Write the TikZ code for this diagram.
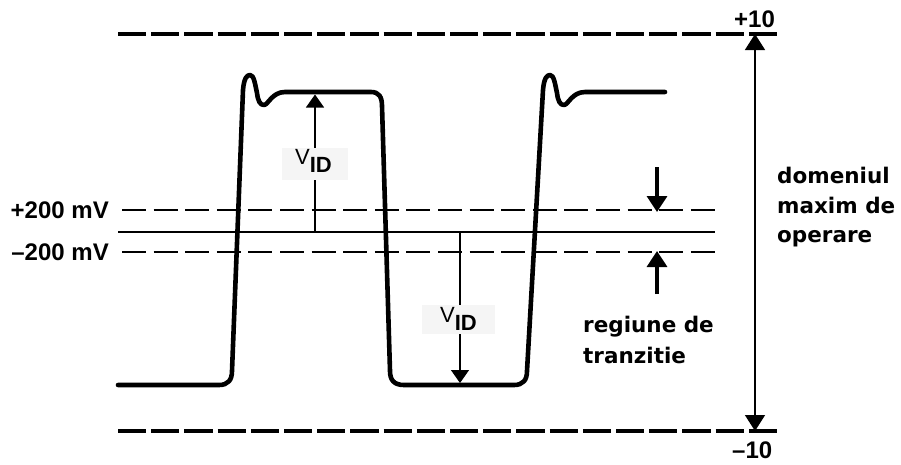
\documentclass[tikz,border=0pt]{standalone}
\usepackage{fontspec}
\setmainfont{Liberation Sans}
\newfontfamily\dvs{DejaVu Sans}
\usetikzlibrary{arrows.meta}
\tikzset{
  wave/.style={line width=4.6pt, line join=round, line cap=round},
  thickdash/.style={line width=4pt, dash pattern=on 28.2pt off 5pt},
  thindash/.style={line width=1.2pt, dash pattern=on 24pt off 7.6pt},
  thinline/.style={line width=1.2pt},
  vidtip/.style={-{Triangle[width=18pt,length=13pt]}},
  bigtip/.style={{Triangle[width=20pt,length=16pt]}-{Triangle[width=20pt,length=16pt]}},
  trtip/.style={line width=3.4pt, -{Triangle[width=20pt,length=16pt]}},
  lbl/.style={inner sep=0pt, font=\bfseries\fontsize{24}{28}\selectfont},
  dtxt/.style={inner sep=0pt, anchor=base west, font=\dvs\bfseries\fontsize{21.5}{26}\selectfont},
  vidtxt/.style={inner sep=0pt, anchor=base west, font=\fontsize{22}{24}\selectfont},
}
\begin{document}
\begin{tikzpicture}[x=1pt,y=-1pt]
\useasboundingbox (0,0) rectangle (901,464);
% limits
\coordinate (topL) at (118,34);
\coordinate (topR) at (777,34);
\coordinate (botL) at (118,431);
\coordinate (botR) at (777,431);
\draw[thickdash] (topL) -- (topR);
\draw[thickdash] (botL) -- (botR);
% threshold lines
\coordinate (pL) at (122,210);
\coordinate (pR) at (715,210);
\coordinate (nL) at (122,252);
\coordinate (nR) at (715,252);
\coordinate (zL) at (118,232);
\coordinate (zR) at (715,232);
\draw[thindash] (pL) -- (pR);
\draw[thindash] (nL) -- (nR);
\draw[thinline] (zL) -- (zR);
% labels
\node[lbl, anchor=base east] (p200) at (109,218) {+200 mV};
\node[lbl, anchor=base east] (n200) at (109,260) {–200 mV};
\node[lbl, anchor=base west] (p10) at (734,27) {+10};
\node[lbl, anchor=base west] (n10) at (732,458) {–10};
% waveform
\draw[wave] (118,385) -- (219,385) .. controls (228,385) and (232,380) .. (232,371)
  -- (243,90) .. controls (244,78) and (247,75) .. (250,75)
  .. controls (254,75) and (255,84) .. (257,93)
  .. controls (258,101) and (260,105) .. (264,105)
  .. controls (268,105) and (272,92) .. (285,92)
  -- (371,92) .. controls (379,92) and (382,97) .. (382,106)
  -- (390,371) .. controls (390,380) and (394,385) .. (404,385)
  -- (514,385) .. controls (523,385) and (527,380) .. (527,371)
  -- (543,90) .. controls (544,78) and (547,75) .. (550,75)
  .. controls (554,75) and (555,84) .. (557,93)
  .. controls (558,101) and (560,105) .. (564,105)
  .. controls (568,105) and (572,92) .. (585,92)
  -- (665,92);
% V_ID arrows
\coordinate (m1) at (315,232);
\coordinate (t1) at (315,94.5);
\draw[thinline, vidtip] (m1) -- (t1);
\fill[gray!8] (282,148) rectangle (348,180);
\node[vidtxt] (vid1) at (295,164) {V\raisebox{-8pt}{\bfseries ID}};
\coordinate (m2) at (460,232);
\coordinate (t2) at (460,383);
\draw[thinline, vidtip] (m2) -- (t2);
\fill[gray!8] (422,305) rectangle (495,334);
\node[vidtxt] (vid2) at (440,322) {V\raisebox{-8pt}{\bfseries ID}};
% max range arrow
\coordinate (rT) at (755,34);
\coordinate (rB) at (755,431);
\draw[line width=1.5pt, bigtip] (rT) -- (rB);
% transition arrows
\coordinate (a1s) at (657,167);
\coordinate (a1e) at (657,212);
\coordinate (a2s) at (657,294);
\coordinate (a2e) at (657,251);
\draw[trtip] (a1s) -- (a1e);
\draw[trtip] (a2s) -- (a2e);
% texts
\node[dtxt] (d1) at (777,183) {domeniul};
\node[dtxt] (d2) at (777,213) {maxim de};
\node[dtxt] (d3) at (777,242) {operare};
\node[dtxt] (r1) at (583,332) {regiune de};
\node[dtxt] (r2) at (583,363) {tranzitie};
\end{tikzpicture}
\end{document}
